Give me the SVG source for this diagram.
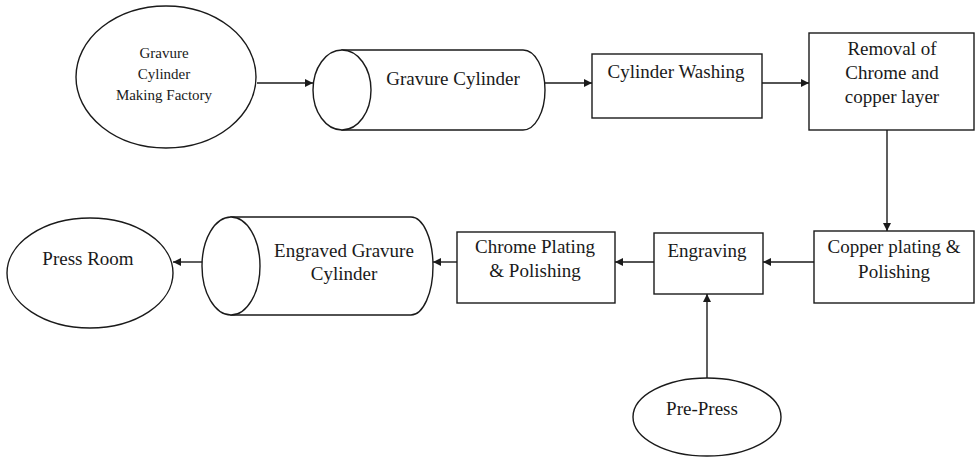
<svg xmlns="http://www.w3.org/2000/svg" width="975" height="458" viewBox="0 0 975 458">
  <style>
    .shape { fill: #fff; stroke: #1a1a1a; stroke-width: 1.4; }
    .edge { fill: none; stroke: #1a1a1a; stroke-width: 1.4; }
    text { fill: #1a1a1a; text-anchor: middle; font-size: 19px; }
    .small { font-size: 15px; }
  </style>
  <defs>
    <marker id="arrow" viewBox="0 0 10 10" refX="10" refY="5" markerWidth="9" markerHeight="8" markerUnits="userSpaceOnUse" orient="auto">
      <path d="M0,0 L10,5 L0,10 Z" fill="#1a1a1a"/>
    </marker>
  </defs>
  <rect width="975" height="458" fill="#fff"/>

  <g id="connectors">
    <line class="edge" x1="257" y1="83" x2="313" y2="83" marker-end="url(#arrow)"/>
    <line class="edge" x1="545" y1="83" x2="592" y2="83" marker-end="url(#arrow)"/>
    <line class="edge" x1="762" y1="83" x2="809" y2="83" marker-end="url(#arrow)"/>
    <line class="edge" x1="887" y1="130" x2="887" y2="231" marker-end="url(#arrow)"/>
    <line class="edge" x1="814" y1="262" x2="763" y2="262" marker-end="url(#arrow)"/>
    <line class="edge" x1="654" y1="262" x2="615" y2="262" marker-end="url(#arrow)"/>
    <line class="edge" x1="457" y1="262" x2="433" y2="262" marker-end="url(#arrow)"/>
    <line class="edge" x1="203" y1="262" x2="173" y2="262" marker-end="url(#arrow)"/>
    <line class="edge" x1="707" y1="378" x2="707" y2="294" marker-end="url(#arrow)"/>
  </g>

  <g font-family="'Liberation Serif', 'DejaVu Serif', serif">
  <g id="factory">
    <ellipse class="shape" cx="166" cy="77" rx="90" ry="71"/>
    <text class="small" x="164" y="58">Gravure</text>
    <text class="small" x="164" y="79">Cylinder</text>
    <text class="small" x="164" y="100">Making Factory</text>
  </g>

  <g id="gravure-cylinder">
    <path class="shape" d="M342,50 L523,50 A22,40 0 0 1 523,130 L342,130 Z"/>
    <ellipse class="shape" cx="342" cy="90" rx="29" ry="40"/>
    <text x="453" y="85">Gravure Cylinder</text>
  </g>

  <g id="cylinder-washing">
    <rect class="shape" x="592" y="54" width="170" height="64"/>
    <text x="676" y="78">Cylinder Washing</text>
  </g>

  <g id="removal">
    <rect class="shape" x="809" y="33" width="165" height="97"/>
    <text x="892" y="55">Removal of</text>
    <text x="892" y="79">Chrome and</text>
    <text x="892" y="103">copper layer</text>
  </g>

  <g id="copper-plating">
    <rect class="shape" x="814" y="231" width="160" height="72"/>
    <text x="894" y="253">Copper plating &amp;</text>
    <text x="894" y="278">Polishing</text>
  </g>

  <g id="engraving">
    <rect class="shape" x="654" y="233" width="109" height="61"/>
    <text x="707" y="257">Engraving</text>
  </g>

  <g id="chrome-plating">
    <rect class="shape" x="457" y="232" width="158" height="71"/>
    <text x="535" y="253">Chrome Plating</text>
    <text x="535" y="277">&amp; Polishing</text>
  </g>

  <g id="engraved-cylinder">
    <path class="shape" d="M231,217 L411,217 A22,49 0 0 1 411,315 L231,315 Z"/>
    <ellipse class="shape" cx="231" cy="266" rx="29" ry="49"/>
    <text x="344" y="257">Engraved Gravure</text>
    <text x="344" y="280">Cylinder</text>
  </g>

  <g id="press-room">
    <ellipse class="shape" cx="90" cy="273" rx="83" ry="55"/>
    <text x="88" y="265">Press Room</text>
  </g>

  <g id="pre-press">
    <ellipse class="shape" cx="707" cy="417" rx="74" ry="39"/>
    <text x="702" y="415">Pre-Press</text>
  </g>
  </g>
</svg>
